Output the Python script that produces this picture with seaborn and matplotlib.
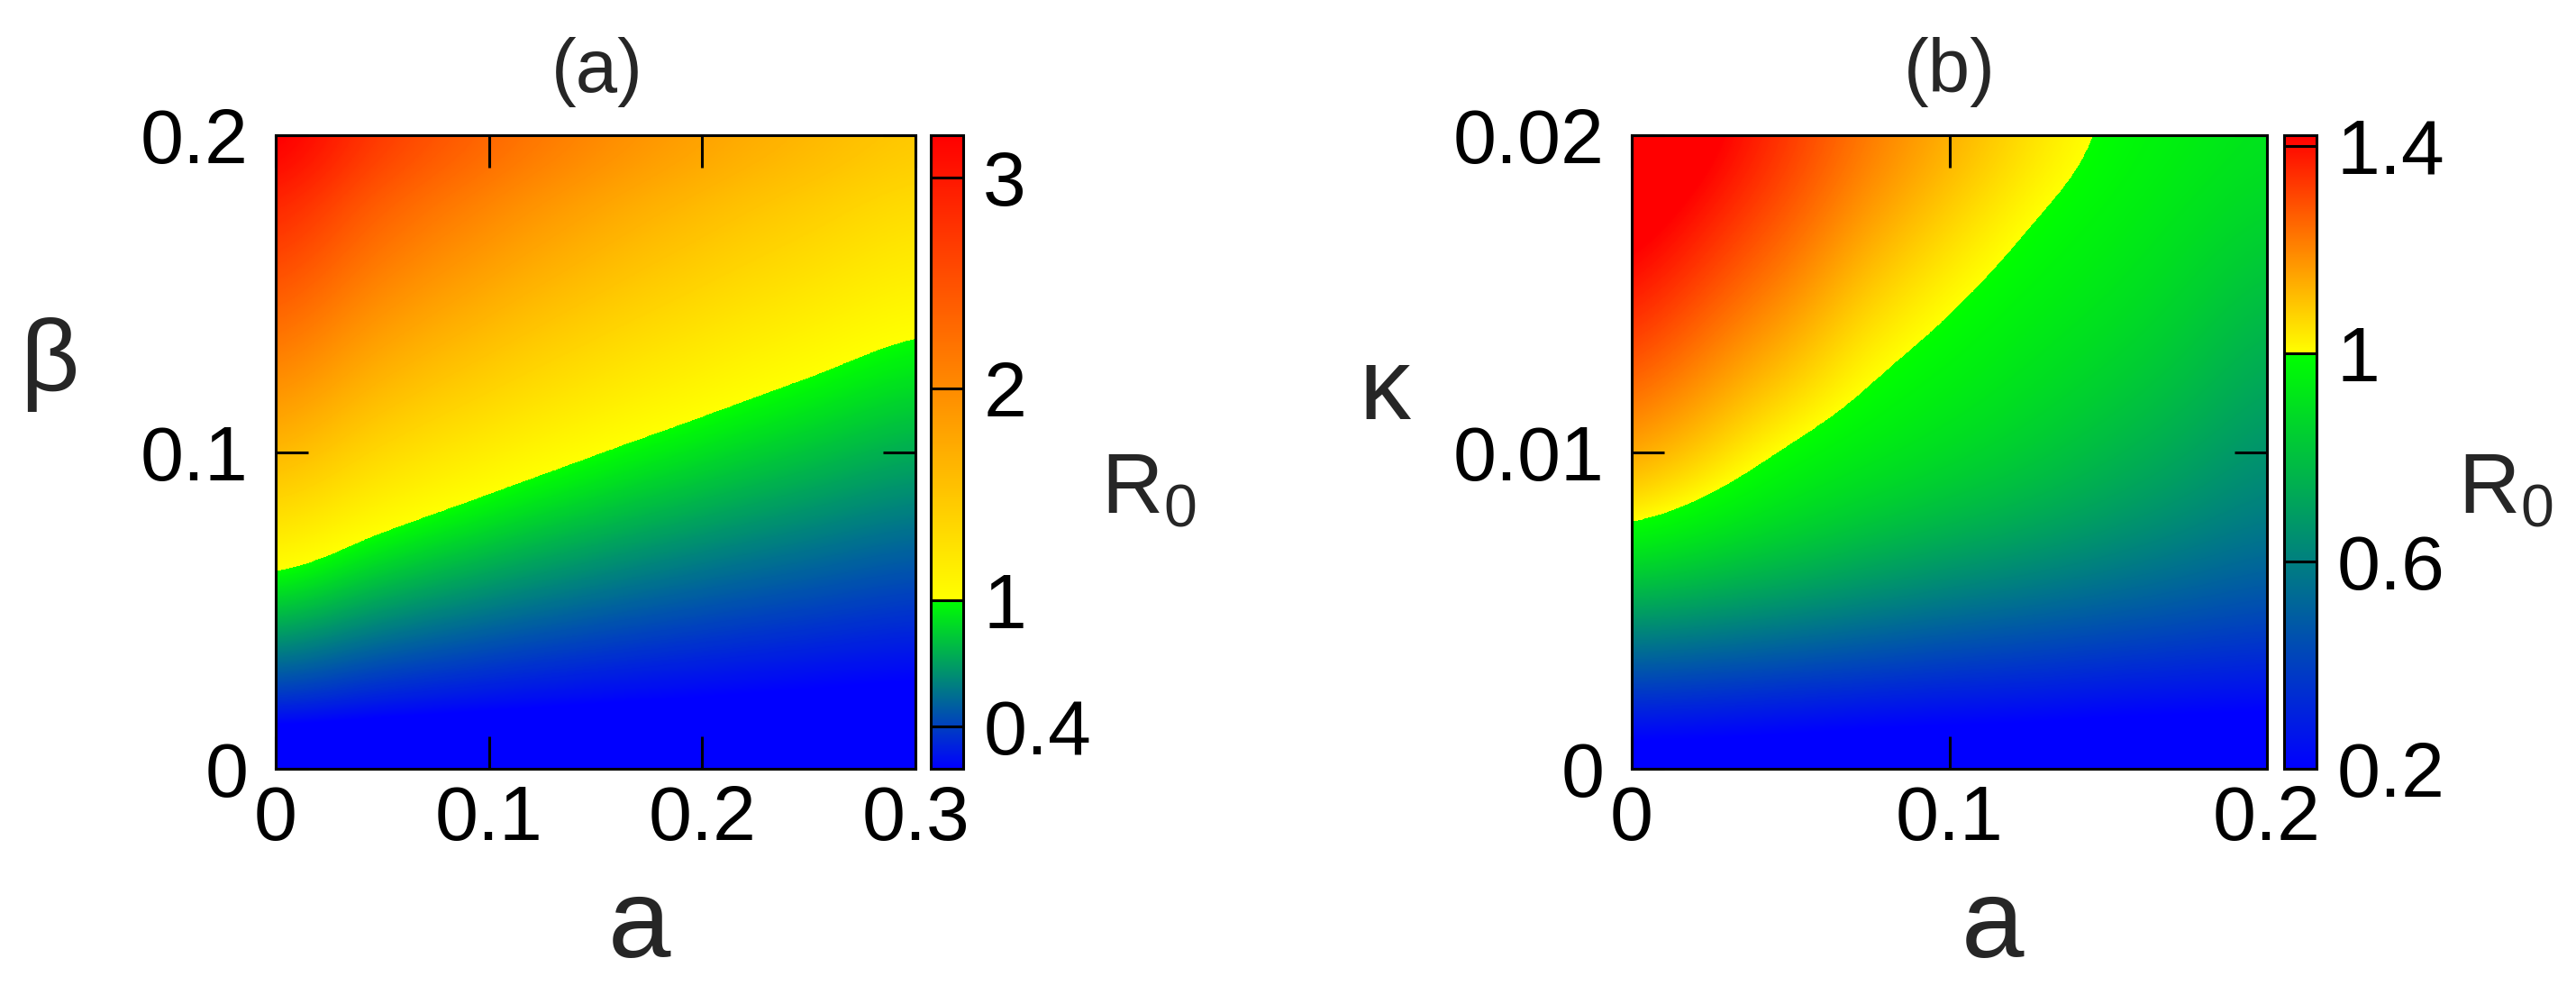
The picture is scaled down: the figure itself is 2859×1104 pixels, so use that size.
import numpy as np
import matplotlib
matplotlib.use('Agg')
import matplotlib.pyplot as plt
from matplotlib.colors import ListedColormap, Normalize
import seaborn as sns

# ---- data ----
# panel (a): R0 on a grid of a (columns) x beta (rows)
a_vals_a = [0.0, 0.05, 0.10, 0.15, 0.20, 0.25, 0.30]
beta_vals = [0.0, 0.025, 0.05, 0.075, 0.10, 0.125, 0.15, 0.175, 0.20]
r0_a = [
    [0.00, 0.00, 0.00, 0.00, 0.00, 0.00, 0.00],
    [0.40, 0.335, 0.288, 0.252, 0.225, 0.202, 0.184],
    [0.80, 0.67, 0.576, 0.505, 0.449, 0.405, 0.368],
    [1.20, 1.005, 0.864, 0.757, 0.674, 0.607, 0.552],
    [1.61, 1.34, 1.152, 1.009, 0.899, 0.809, 0.736],
    [2.01, 1.675, 1.44, 1.261, 1.123, 1.011, 0.920],
    [2.41, 2.01, 1.728, 1.514, 1.348, 1.214, 1.105],
    [2.81, 2.345, 2.016, 1.766, 1.572, 1.416, 1.289],
    [3.21, 2.68, 2.304, 2.018, 1.797, 1.618, 1.473],
]

# panel (b): R0 on a grid of a (columns) x kappa (rows)
a_vals_b = [0.0, 0.025, 0.05, 0.075, 0.10, 0.125, 0.15, 0.175, 0.20]
kappa_vals = [0.0, 0.0025, 0.005, 0.0075, 0.01, 0.0125, 0.015, 0.0175, 0.02]
r0_b = [
    [0.08, 0.08, 0.07, 0.06, 0.06, 0.06, 0.05, 0.05, 0.05],
    [0.39, 0.37, 0.35, 0.33, 0.31, 0.30, 0.28, 0.27, 0.26],
    [0.71, 0.68, 0.64, 0.60, 0.56, 0.53, 0.50, 0.47, 0.44],
    [1.01, 0.93, 0.87, 0.81, 0.76, 0.72, 0.67, 0.62, 0.57],
    [1.16, 1.08, 0.98, 0.94, 0.89, 0.84, 0.78, 0.72, 0.65],
    [1.28, 1.18, 1.10, 1.00, 0.96, 0.91, 0.86, 0.80, 0.72],
    [1.39, 1.28, 1.19, 1.08, 1.01, 0.96, 0.92, 0.86, 0.79],
    [1.48, 1.37, 1.27, 1.16, 1.08, 1.00, 0.96, 0.91, 0.86],
    [1.55, 1.45, 1.33, 1.22, 1.14, 1.06, 0.99, 0.95, 0.91],
]

cb_range_a = (0.2, 3.2)
cb_range_b = (0.2, 1.42)
cb_ticks_a = [0.4, 1, 2, 3]
cb_ticks_b = [0.2, 0.6, 1, 1.4]

# ---- style ----
sns.set_theme(style='white')
plt.rcParams['font.family'] = ['Liberation Sans', 'DejaVu Sans']
plt.rcParams['mathtext.fontset'] = 'custom'
plt.rcParams['mathtext.rm'] = 'Liberation Sans'
plt.rcParams['mathtext.it'] = 'Liberation Sans'

W, H = 2859, 1104
TICK_FS = 62
LW = 2.2
fig = plt.figure(figsize=(W / 100, H / 100), dpi=100)


def box(x0, y0, x1, y1):
    # pixel box -> figure fraction rect
    return [x0 / W, 1 - y1 / H, (x1 - x0) / W, (y1 - y0) / H]


def r0_cmap(vmin, vmax, n=1024):
    # blue->green below R0=1, yellow->red above, with a jump at 1
    n_low = int(round(n * (1 - vmin) / (vmax - vmin)))
    low = sns.blend_palette(['#0000ff', '#00ff00'], n_colors=n_low)
    high = sns.blend_palette(['#ffff00', '#ff0000'], n_colors=n - n_low)
    return ListedColormap(list(low) + list(high))


def panel(ax_box, cb_box, xs, ys, z, cb_range, cb_ticks, xticks, xlabels, yticks, ylabels, interp):
    ax = fig.add_axes(box(*ax_box))
    cax = fig.add_axes(box(*cb_box))
    xs = np.asarray(xs)
    ys = np.asarray(ys)
    dx = xs[1] - xs[0]
    dy = ys[1] - ys[0]
    im = ax.imshow(np.asarray(z), origin='lower', cmap=r0_cmap(*cb_range),
                   norm=Normalize(*cb_range), aspect='auto',
                   interpolation=interp, interpolation_stage='data',
                   extent=[xs[0] - dx / 2, xs[-1] + dx / 2, ys[0] - dy / 2, ys[-1] + dy / 2])
    ax.set_xlim(xs[0], xs[-1])
    ax.set_ylim(ys[0], ys[-1])
    ax.set_xticks(xticks)
    ax.set_xticklabels(xlabels)
    ax.set_yticks(yticks)
    ax.set_yticklabels(ylabels)
    ax.tick_params(direction='in', top=True, right=True, bottom=True, left=True,
                   length=26, width=LW, colors='black', labelsize=TICK_FS)
    ax.tick_params(axis='x', pad=12)
    ax.tick_params(axis='y', pad=22)
    for s in ax.spines.values():
        s.set_linewidth(LW)
        s.set_color('black')

    cb = fig.colorbar(im, cax=cax)
    cb.set_ticks(cb_ticks)
    cb.set_ticklabels([f'{t:g}' for t in cb_ticks])
    cax.tick_params(axis='y', length=0, labelsize=TICK_FS, pad=16, colors='black')
    # tick marks run across the whole narrow bar
    for t in cb_ticks:
        cax.axhline(t, color='black', lw=LW, zorder=5)
    cb.outline.set_linewidth(LW)
    cb.outline.set_edgecolor('black')
    return ax


panel((306, 150, 1016, 853), (1033, 150, 1069, 853),
      a_vals_a, beta_vals, r0_a, cb_range_a, cb_ticks_a,
      [0, 0.1, 0.2, 0.3], ['0', '0.1', '0.2', '0.3'],
      [0, 0.1, 0.2], ['0', '0.1', '0.2'], 'catrom')
panel((1811, 150, 2516, 853), (2535, 150, 2571, 853),
      a_vals_b, kappa_vals, r0_b, cb_range_b, cb_ticks_b,
      [0, 0.1, 0.2], ['0', '0.1', '0.2'],
      [0, 0.01, 0.02], ['0', '0.01', '0.02'], 'bicubic')

# titles and axis labels
fig.text(663 / W, 1 - 80 / H, '(a)', fontsize=60, ha='center', va='center')
fig.text(2164 / W, 1 - 80 / H, '(b)', fontsize=60, ha='center', va='center')
fig.text(710 / W, 1 - 1030 / H, 'a', fontsize=90, ha='center', va='center')
fig.text(2212 / W, 1 - 1030 / H, 'a', fontsize=90, ha='center', va='center')
fig.text(55 / W, 1 - 405 / H, 'β', fontsize=82, ha='center', va='center')
fig.text(1537 / W, 1 - 436 / H, 'κ', fontsize=82, ha='center', va='center')
fig.text(1222 / W, 1 - 545 / H, r'$\mathregular{R_0}$', fontsize=68, ha='left', va='center')
fig.text(2728 / W, 1 - 545 / H, r'$\mathregular{R_0}$', fontsize=68, ha='left', va='center')

fig.savefig('out.png', dpi=100)
